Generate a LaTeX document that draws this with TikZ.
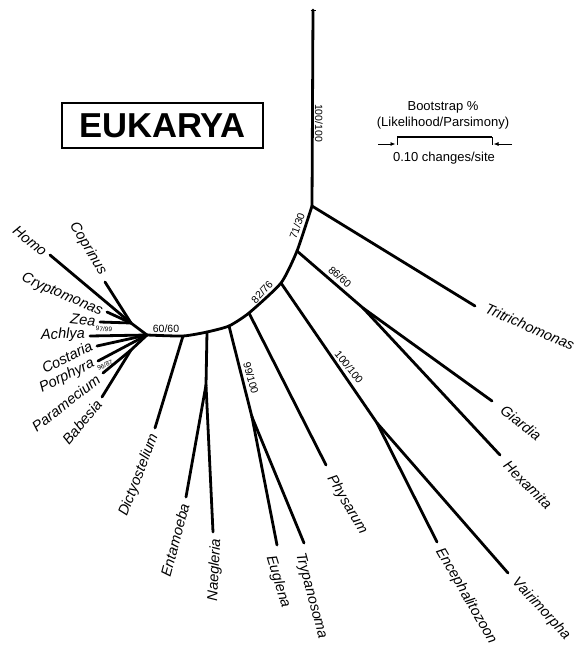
\documentclass[tikz,border=0pt]{standalone}
\usepackage{fontspec}
\setmainfont{Liberation Sans}
\usetikzlibrary{arrows.meta}
\begin{document}
\begin{tikzpicture}[x=1pt,y=-1pt,
  branch/.style={line width=2.8pt, line cap=round, line join=round},
  taxon/.style={font=\fontsize{14.6}{15}\selectfont\itshape, inner sep=0pt},
  boot/.style={font=\fontsize{10.5}{11}\selectfont, inner sep=0pt},
  tinyboot/.style={font=\fontsize{6.5}{7}\selectfont, inner sep=0pt},
  legendtext/.style={font=\fontsize{13}{14}\selectfont, inner sep=0pt},
  legendarrow/.style={line width=0.8pt, -{Latex[length=5pt,width=4pt]}}]
\useasboundingbox (0,0) rectangle (575,651);

% internal nodes of the tree
\coordinate (root) at (313,10);
\coordinate (A) at (312,206);
\coordinate (B) at (297,251);
\coordinate (C) at (281,283);
\coordinate (D) at (249,313);
\coordinate (G) at (229,326);
\coordinate (I) at (207,332);
\coordinate (K) at (183,336);
\coordinate (L) at (147,335);
\coordinate (F) at (363,308);
\coordinate (E) at (377,423);
\coordinate (H) at (252,417);
\coordinate (J) at (206,385);
\coordinate (N) at (131,323);
\coordinate (P) at (131,350);

% tips
\coordinate (tTri) at (475,306);
\coordinate (tGia) at (492,401);
\coordinate (tHex) at (500,455);
\coordinate (tEnc) at (437,542);
\coordinate (tVai) at (508,573);
\coordinate (tPhy) at (326,465);
\coordinate (tEug) at (277,545);
\coordinate (tTry) at (304,543);
\coordinate (tEnt) at (186,497);
\coordinate (tNae) at (213,532);
\coordinate (tDic) at (155,428);
\coordinate (tHom) at (50,255);
\coordinate (tCop) at (105,282);
\coordinate (tCry) at (107,312);
\coordinate (tZea) at (100,322);
\coordinate (tAch) at (90,336);
\coordinate (tCos) at (97,346);
\coordinate (tPor) at (98,361);
\coordinate (tPar) at (103,373);
\coordinate (tBab) at (102,397);

% root stem with its end tick
\draw[branch] (root) -- (A);
\draw[line width=1pt] ([xshift=-2.5pt]root) -- ([xshift=2.5pt]root);

% backbone
\draw[branch] plot[smooth, tension=0.35] coordinates {(A) (B) (C) (D) (G) (I) (K) (L)};

% deep branches
\draw[branch] (A) -- (tTri);
\draw[branch] (B) -- (F);
\draw[branch] (F) -- (tGia);
\draw[branch] (F) -- (tHex);
\draw[branch] (C) -- (E);
\draw[branch] (E) -- (tEnc);
\draw[branch] (E) -- (tVai);
\draw[branch] (D) -- (tPhy);
\draw[branch] (G) -- (H);
\draw[branch] (H) -- (tEug);
\draw[branch] (H) -- (tTry);
\draw[branch] (I) -- (J);
\draw[branch] (J) -- (tEnt);
\draw[branch] (J) -- (tNae);
\draw[branch] (K) -- (tDic);

% crown group
\draw[branch] (L) -- (N);
\draw[branch] (N) -- (tHom);
\draw[branch] (N) -- (tCop);
\draw[branch] (N) -- (tCry);
\draw[branch] (N) -- (tZea);
\draw[branch] (L) -- (tAch);
\draw[branch] (L) -- (tCos);
\draw[branch] (L) -- (tPor);
\draw[branch] (L) -- (P);
\draw[branch] (P) -- (tPar);
\draw[branch] (P) -- (tBab);

% taxon names
\node[taxon, rotate=-23.5] (nTri) at (530,327) {Tritrichomonas};
\node[taxon, rotate=-38] (nGia) at (521,423) {Giardia};
\node[taxon, rotate=-45] (nHex) at (528,485) {Hexamita};
\node[taxon, rotate=-60] (nEnc) at (466,596) {Encephalitozoon};
\node[taxon, rotate=-47] (nVai) at (541,609) {Vairimorpha};
\node[taxon, rotate=-59.5] (nPhy) at (347,505) {Physarum};
\node[taxon, rotate=-73] (nEug) at (278,582) {Euglena};
\node[taxon, rotate=-75] (nTry) at (311,596) {Trypanosoma};
\node[taxon, rotate=75] (nEnt) at (175,540) {Entamoeba};
\node[taxon, rotate=87] (nNae) at (215,570) {Naegleria};
\node[taxon, rotate=69] (nDic) at (139,475) {Dictyostelium};
\node[taxon, rotate=-39] (nHom) at (30,241) {Homo};
\node[taxon, rotate=-59] (nCop) at (88,249) {Coprinus};
\node[taxon, rotate=-23.5] (nCry) at (62,295) {Cryptomonas};
\node[taxon, rotate=-6] (nZea) at (83,320) {Zea};
\node[taxon, rotate=2] (nAch) at (63,335) {Achlya};
\node[taxon, rotate=26.5] (nCos) at (67,357) {Costaria};
\node[taxon, rotate=26] (nPor) at (67,376) {Porphyra};
\node[taxon, rotate=38] (nPar) at (66,403) {Paramecium};
\node[taxon, rotate=50] (nBab) at (82,422) {Babesia};

% bootstrap support values
\node[boot, rotate=-90] (b1) at (319,123) {100/100};
\node[boot, rotate=70] (b2) at (297,226) {71/30};
\node[boot, rotate=-42] (b3) at (340,277) {86/60};
\node[boot, rotate=47] (b4) at (262,292) {82/76};
\node[boot, rotate=-51] (b5) at (349,367) {100/100};
\node[boot, rotate=-75] (b6) at (251,378) {99/100};
\node[boot] (b7) at (166,329) {60/60};
\node[tinyboot, rotate=-4] (b8) at (104,329) {97/99};
\node[tinyboot, rotate=25] (b9) at (105,365) {96/87};

% title box
\node[draw, line width=1.4pt, minimum width=201pt, minimum height=45pt, inner sep=0pt,
      font=\fontsize{34.6}{36}\selectfont\bfseries] (title) at (162.5,125.5) {EUKARYA};

% legend and scale bar
\node[legendtext] (lg1) at (443,107) {Bootstrap \%};
\node[legendtext] (lg2) at (443,123) {(Likelihood/Parsimony)};
\coordinate (s1) at (397,137);
\coordinate (s2) at (492,137);
\draw[line width=2.4pt] (s1) -- (s2);
\draw[line width=0.6pt] (s1) -- ++(0,8);
\draw[line width=0.6pt] (s2) -- ++(0,8);
\coordinate (aL) at (378,144);
\coordinate (aR) at (512,144);
\draw[legendarrow] (aL) -- ([xshift=-1.5pt]s1 |- aL);
\draw[legendarrow] (aR) -- ([xshift=1.5pt]s2 |- aR);
\node[legendtext] (lg3) at (444,158) {0.10 changes/site};
\end{tikzpicture}
\end{document}
